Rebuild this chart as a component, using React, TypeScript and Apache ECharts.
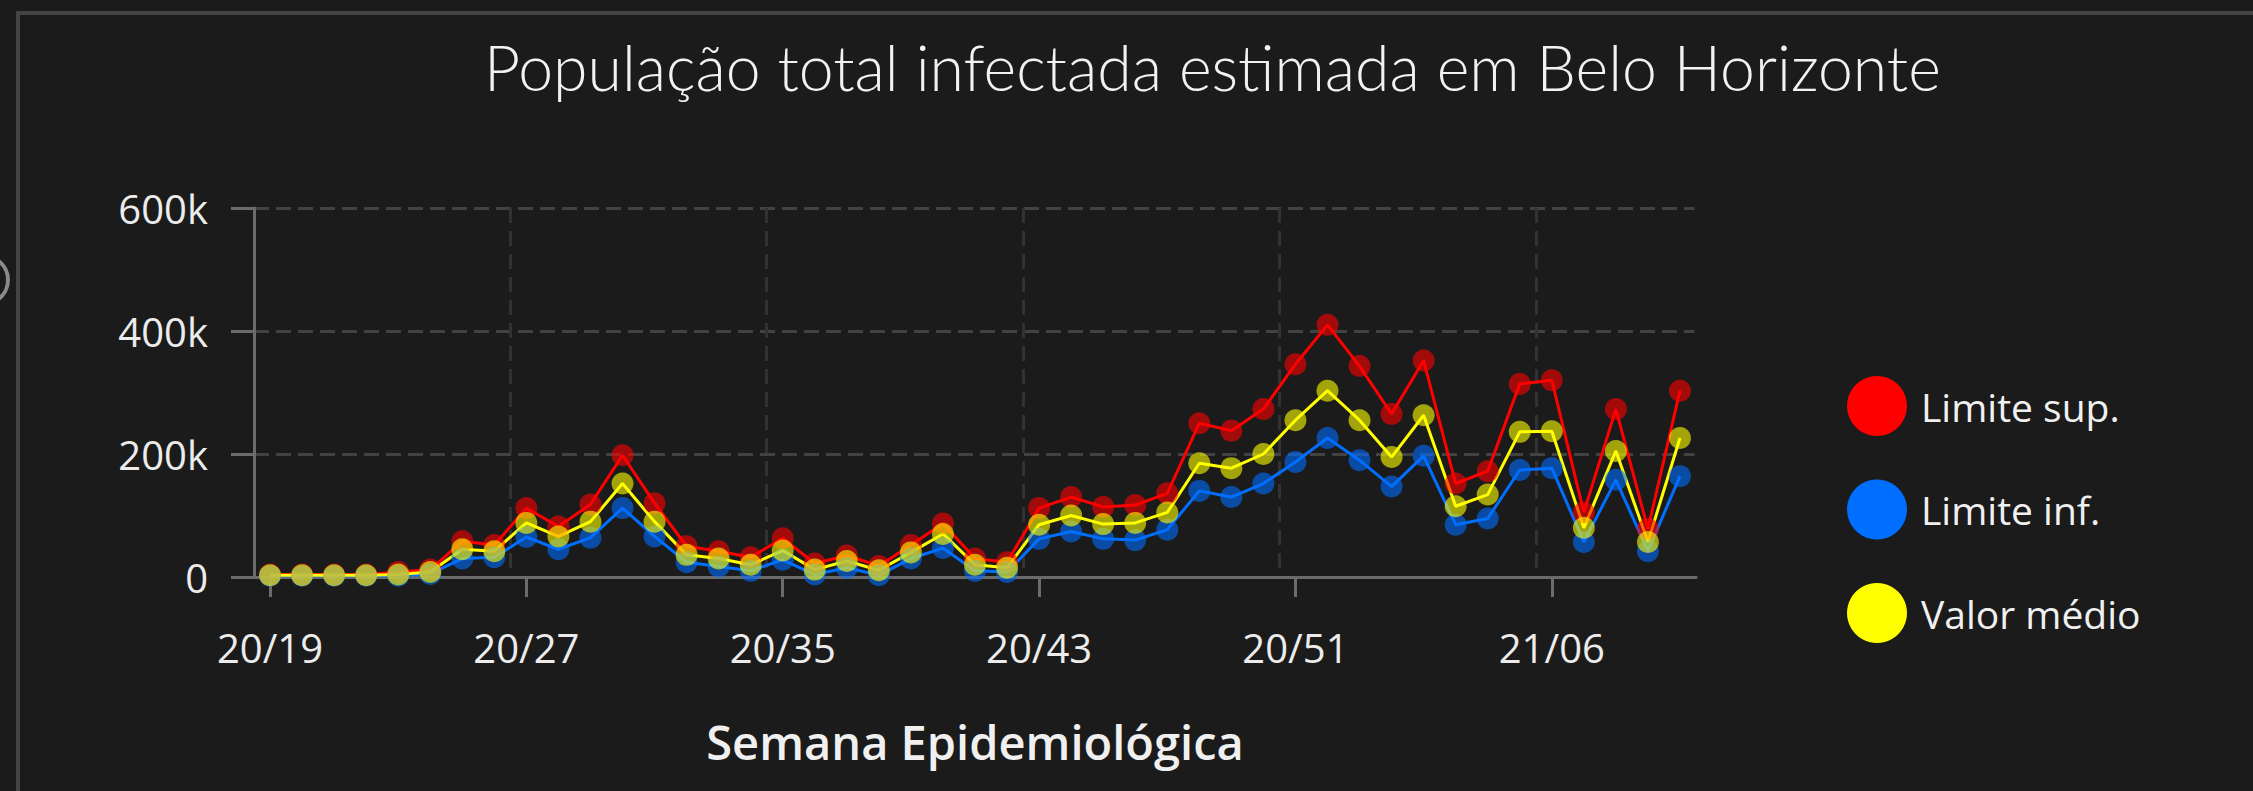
import React, { useEffect, useRef } from "react";
import * as echarts from "echarts";

const weeks = [
  "20/19", "20/20", "20/21", "20/22", "20/23", "20/24", "20/25", "20/26", "20/27", "20/28",
  "20/29", "20/30", "20/31", "20/32", "20/33", "20/34", "20/35", "20/36", "20/37", "20/38",
  "20/39", "20/40", "20/41", "20/42", "20/43", "20/44", "20/45", "20/46", "20/47", "20/48",
  "20/49", "20/50", "20/51", "20/52", "20/53", "21/01", "21/02", "21/03", "21/04", "21/05",
  "21/06", "21/07", "21/08", "21/09", "21/10",
];

// values in thousands of people
const limiteSup = [
  4, 4, 4, 4, 8, 12, 58, 52, 112, 82,
  118, 198, 120, 50, 42, 32, 63, 22, 35, 18,
  52, 87, 30, 24, 112, 130, 114, 117, 136, 250,
  238, 273, 346, 410, 343, 265, 352, 152, 172, 314,
  320, 105, 273, 78, 303,
];
const limiteInf = [
  2, 2, 2, 2, 2, 5, 30, 32, 65, 45,
  64, 112, 66, 24, 17, 10, 28, 4, 15, 3,
  30, 47, 10, 8, 62, 74, 62, 60, 77, 140,
  130, 152, 187, 226, 190, 147, 197, 85, 95, 174,
  177, 57, 158, 42, 164,
];
const valorMedio = [
  3, 3, 3, 3, 4, 8, 45, 42, 88, 66,
  90, 152, 90, 36, 30, 20, 43, 12, 26, 11,
  40, 70, 20, 15, 85, 100, 86, 88, 105, 185,
  177, 200, 255, 303, 255, 195, 263, 115, 134, 236,
  237, 80, 205, 57, 226,
];

const yMin = 0;
const yMax = 600;
const yInterval = 200;

const seriesNames = ["Limite sup.", "Limite inf.", "Valor médio"];
const seriesColors = ["#ff0000", "#006eff", "#ffff00"];

const titleText = "População total infectada estimada em Belo Horizonte";
const xAxisName = "Semana Epidemiológica";

const FONT = "'Segoe UI', 'Open Sans', sans-serif";

export default function App() {
  const ref = useRef<HTMLDivElement>(null);

  useEffect(() => {
    document.body.style.margin = "0";
    document.body.style.background = "#1b1b1b";
    const chart = echarts.init(ref.current!, null, { renderer: "svg" });
    const dataSets = [limiteSup, limiteInf, valorMedio];
    chart.setOption({
      animation: false,
      backgroundColor: "#1b1b1b",
      title: {
        text: titleText,
        left: 484,
        top: 35,
        padding: 0,
        textStyle: {
          color: "#f2f2f2",
          fontFamily: "Lato, 'Open Sans', sans-serif",
          fontWeight: 300,
          fontSize: 62.5,
        },
      },
      legend: {
        orient: "vertical",
        left: 1847,
        top: 376,
        padding: 0,
        itemWidth: 60,
        itemHeight: 60,
        itemGap: 43.5,
        icon: "circle",
        data: seriesNames.map((n, i) => ({
          name: n,
          itemStyle: { color: seriesColors[i], opacity: 1 },
        })),
        textStyle: {
          color: "#f0f0f0",
          fontFamily: FONT,
          fontSize: 39,
          padding: [0, 0, 0, 9],
        },
      },
      graphic: [
        {
          type: "rect",
          shape: { x: 18, y: 13, width: 2400, height: 1000 },
          style: { fill: "none", stroke: "#444444", lineWidth: 4 },
          silent: true,
        },
        {
          type: "circle",
          shape: { cx: -16, cy: 280, r: 24 },
          style: { fill: "none", stroke: "#8a8a8a", lineWidth: 4 },
          silent: true,
        },
        {
          type: "rect",
          z: 1,
          shape: { x: 1694.5, y: 200, width: 6, height: 374 },
          style: { fill: "#1b1b1b" },
          silent: true,
        },
      ],
      grid: {
        left: 254,
        right: 557,
        top: 208,
        bottom: 214,
        containLabel: false,
      },
      xAxis: {
        type: "category",
        data: weeks,
        boundaryGap: true,
        name: xAxisName,
        nameLocation: "middle",
        nameGap: 141,
        nameTextStyle: {
          color: "#f0f0f0",
          fontFamily: FONT,
          fontWeight: 600,
          fontSize: 47,
        },
        axisLine: { lineStyle: { color: "#6b6b6b", width: 3 } },
        axisTick: {
          show: true,
          interval: 7,
          alignWithLabel: true,
          length: 20,
          lineStyle: { color: "#6b6b6b", width: 3 },
        },
        axisLabel: {
          interval: 7,
          margin: 50,
          color: "#ececec",
          fontFamily: FONT,
          fontSize: 40,
        },
        splitLine: {
          show: true,
          interval: 7,
          lineStyle: { color: "#323232", width: 3, type: [15, 8] },
        },
      },
      yAxis: {
        type: "value",
        min: yMin,
        max: yMax,
        interval: yInterval,
        axisLine: { show: true, lineStyle: { color: "#6b6b6b", width: 3 } },
        axisTick: {
          show: true,
          length: 23,
          lineStyle: { color: "#6b6b6b", width: 3 },
        },
        axisLabel: {
          margin: 46,
          color: "#ececec",
          fontFamily: FONT,
          fontSize: 40,
          formatter: (v: number) => (v === 0 ? "0" : `${v}k`),
        },
        splitLine: {
          show: true,
          lineStyle: { color: "#424242", width: 3, type: [15, 7] },
        },
      },
      series: seriesNames.map((n, i) => ({
        name: n,
        type: "line",
        data: dataSets[i],
        symbol: "circle",
        symbolSize: 22,
        showSymbol: true,
        showAllSymbol: true,
        z: 3,
        color: seriesColors[i],
        lineStyle: { color: seriesColors[i], width: 3 },
        itemStyle: { color: seriesColors[i], opacity: 0.6 },
        emphasis: { disabled: true },
      })),
    });
    return () => chart.dispose();
  }, []);

  return (
    <div
      ref={ref}
      style={{ position: "absolute", left: 0, top: 0, width: 2253, height: 791 }}
    />
  );
}
